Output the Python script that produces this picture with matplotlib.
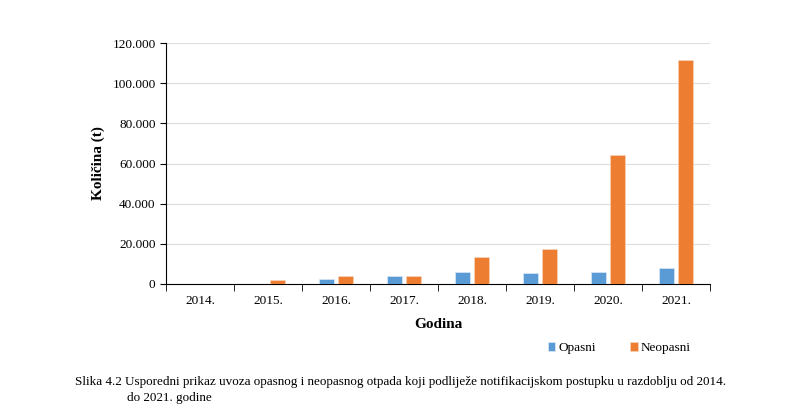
import numpy as np
import matplotlib.pyplot as plt
from matplotlib.ticker import FuncFormatter

godine = ['2014.', '2015.', '2016.', '2017.', '2018.', '2019.', '2020.', '2021.']
opasni = [100, 100, 2300, 3800, 6100, 5700, 6100, 8100]
neopasni = [200, 2100, 4000, 4200, 13600, 17300, 64000, 111500]

plt.rcParams['font.family'] = ['Liberation Serif', 'DejaVu Serif']

fig = plt.figure(figsize=(8, 4.18), dpi=100)
ax = fig.add_axes([0.2075, 1 - 284 / 418, 0.68, 241 / 418])

x = np.arange(len(godine))
w = 0.23
ax.bar(x - 0.14, opasni, w, color='#5b9bd5', edgecolor='#dbe8f5', linewidth=0.5, label='Opasni', zorder=3)
ax.bar(x + 0.14, neopasni, w, color='#ed7d31', edgecolor='#f8d5bd', linewidth=0.5, label='Neopasni', zorder=3)

ax.set_xlim(-0.5, len(godine) - 0.5)
ax.set_ylim(0, 120000)
ax.set_yticks(np.arange(0, 120001, 20000))
ax.yaxis.set_major_formatter(FuncFormatter(lambda v, p: '0' if v == 0 else f'{int(v):,}'.replace(',', '.')))
ax.set_xticks(x)
ax.set_xticklabels(godine)
ax.set_xticks(np.arange(-0.5, len(godine), 1), minor=True)
ax.tick_params(axis='x', which='major', length=0, pad=8, labelsize=9.5)
ax.tick_params(axis='x', which='minor', length=5, direction='out')
ax.tick_params(axis='y', length=4, direction='out', labelsize=9.5)
ax.grid(axis='y', color='#dddddd', linewidth=0.8, zorder=0)
for s in ['top', 'right']:
    ax.spines[s].set_visible(False)

ax.set_xlabel('Godina', fontsize=11, fontweight='bold', labelpad=8)
ax.set_ylabel('Količina (t)', fontsize=11, fontweight='bold', labelpad=5)

ax.legend(loc='center', bbox_to_anchor=(619 / 800, 1 - 348 / 418), bbox_transform=fig.transFigure,
          ncol=2, frameon=False, fontsize=9.5, handlelength=0.6, handleheight=0.6,
          handletextpad=0.2, columnspacing=2.6)

fig.text(75 / 800, 1 - 382 / 418,
         'Slika 4.2 Usporedni prikaz uvoza opasnog i neopasnog otpada koji podliježe notifikacijskom postupku u razdoblju od 2014.',
         fontsize=9.45, va='center')
fig.text(127 / 800, 1 - 398 / 418, 'do 2021. godine', fontsize=9.45, va='center')

fig.savefig('out.png', dpi=100)
